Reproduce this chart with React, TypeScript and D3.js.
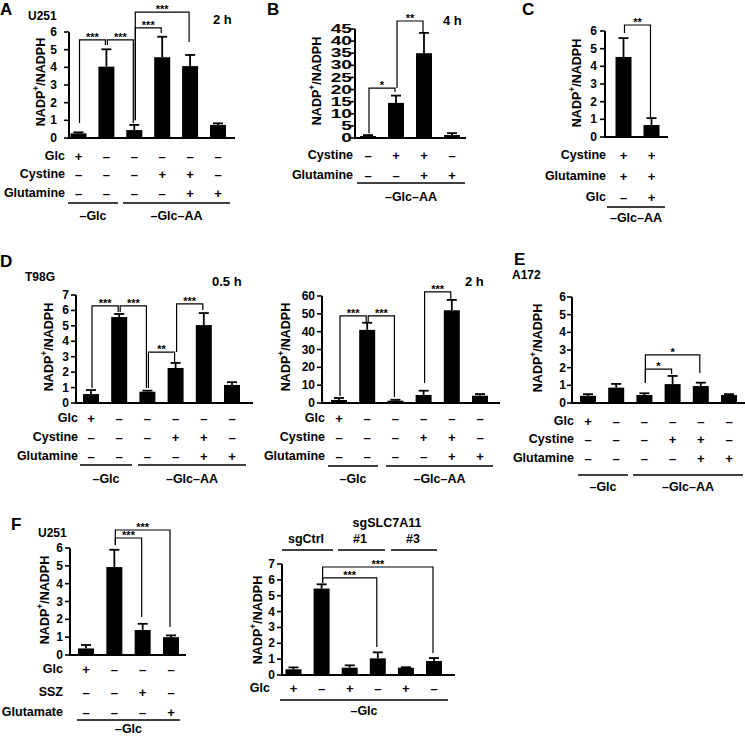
import React from 'react';
import * as d3 from 'd3';

const FONT = '"Liberation Sans", Arial, Helvetica, sans-serif';

// ---------- Data ----------
const PLUS = '+';
const MINUS = '–';

// Panel A (U251, 2 h)
const A_VALUES = [0.26, 4.04, 0.45, 4.57, 4.07, 0.74];
const A_ERRORS = [0.06, 0.98, 0.29, 1.16, 0.63, 0.09];
// Panel B (4 h)
const B_VALUES = [0.8, 14.5, 35.0, 1.2];
const B_ERRORS = [0.4, 3.0, 8.4, 0.8];
// Panel C
const C_VALUES = [4.53, 0.68];
const C_ERRORS = [1.07, 0.39];
// Panel D (T98G)
const D1_VALUES = [0.58, 5.57, 0.73, 2.27, 5.05, 1.17];
const D1_ERRORS = [0.26, 0.2, 0.07, 0.33, 0.78, 0.18];
const D2_VALUES = [1.7, 41, 1.3, 4.5, 52, 4.1];
const D2_ERRORS = [1.1, 4, 0.5, 2.4, 5.8, 0.9];
// Panel E (A172)
const E_VALUES = [0.41, 0.87, 0.45, 1.07, 0.96, 0.45];
const E_ERRORS = [0.09, 0.21, 0.1, 0.46, 0.19, 0.05];
// Panel F
const F1_VALUES = [0.37, 4.93, 1.4, 1.0];
const F1_ERRORS = [0.19, 0.97, 0.35, 0.1];
const F2_VALUES = [0.36, 5.45, 0.46, 1.05, 0.46, 0.88];
const F2_ERRORS = [0.12, 0.27, 0.15, 0.38, 0.03, 0.19];

// Condition rows
const SIX_GLC = [PLUS, MINUS, MINUS, MINUS, MINUS, MINUS];
const SIX_CYS = [MINUS, MINUS, MINUS, PLUS, PLUS, MINUS];
const SIX_GLN = [MINUS, MINUS, MINUS, MINUS, PLUS, PLUS];
const B_CYS = [MINUS, PLUS, PLUS, MINUS];
const B_GLN = [MINUS, MINUS, PLUS, PLUS];
const C_CYS = [PLUS, PLUS];
const C_GLN = [PLUS, PLUS];
const C_GLC = [MINUS, PLUS];
const F1_GLC = [PLUS, MINUS, MINUS, MINUS];
const F1_SSZ = [MINUS, MINUS, PLUS, MINUS];
const F1_GLU = [MINUS, MINUS, MINUS, PLUS];
const F2_GLC = [PLUS, MINUS, PLUS, MINUS, PLUS, MINUS];

// Significance brackets: [from, to, top, leftEnd, rightEnd, label]
type Bracket = [number, number, number, number, number, string];
const A_BRACKETS: Bracket[] = [
  [0, 1, 5.55, 0.85, 5.26, '***'],
  [1, 2, 5.55, 5.26, 0.85, '***'],
  [2, 3, 6.23, 1.0, 5.94, '***'],
  [2, 4, 7.13, 1.0, 5.43, '***'],
];
const B_BRACKETS: Bracket[] = [
  [0, 1, 20.6, 2.0, 19.0, '*'],
  [1, 2, 48.3, 20.6, 43.8, '**'],
];
const C_BRACKETS: Bracket[] = [[0, 1, 6.34, 5.89, 1.13, '**']];
const D1_BRACKETS: Bracket[] = [
  [0, 1, 6.29, 0.97, 5.9, '***'],
  [1, 2, 6.29, 5.9, 0.97, '***'],
  [2, 3, 3.3, 0.97, 2.6, '**'],
  [3, 4, 6.42, 3.3, 6.03, '***'],
];
const D2_BRACKETS: Bracket[] = [
  [0, 1, 48.8, 3.9, 45.4, '***'],
  [1, 2, 48.8, 45.4, 3.4, '***'],
  [3, 4, 62.3, 11.2, 58.3, '***'],
];
const E_BRACKETS: Bracket[] = [
  [2, 3, 1.92, 1.13, 1.64, '*'],
  [2, 4, 2.72, 1.13, 1.7, '*'],
];
const F1_BRACKETS: Bracket[] = [
  [1, 2, 6.56, 6.17, 2.13, '***'],
  [1, 3, 7.01, 6.17, 1.57, '***'],
];
const F2_BRACKETS: Bracket[] = [
  [1, 3, 6.12, 5.8, 1.77, '***'],
  [1, 5, 6.81, 5.8, 1.39, '***'],
];

// ---------- Panel component ----------
interface Row { label: string; signs: string[]; y: number }
interface Group { label: string; x1: number; x2: number }
interface PanelProps {
  values: number[];
  errors: number[];
  yMax: number;
  tickStep: number;
  axisX: number;
  axisRight: number;
  y0: number;
  yTop: number;
  firstX: number;
  lastX: number;
  tickGap: number;
  tickScaleX?: number;
  ylabelX: number;
  ylabelY: number;
  rows: Row[];
  rowLabelX: number;
  groups: Group[];
  groupLineY: number;
  groupLabelY: number;
  brackets: Bracket[];
}

const YLabel: React.FC<{ x: number; y: number }> = ({ x, y }) => (
  <text
    transform={`translate(${x},${y}) rotate(-90)`}
    textAnchor="middle"
    dominantBaseline="central"
    fontSize={12.5}
    fontWeight="bold"
  >
    NADP<tspan fontSize={8.5} dy={-5}>+</tspan>
    <tspan dy={5}>/NADPH</tspan>
  </text>
);

const Panel: React.FC<PanelProps> = (p) => {
  const x = d3
    .scalePoint<number>()
    .domain(d3.range(p.values.length))
    .range([p.firstX, p.lastX]);
  const y = d3.scaleLinear().domain([0, p.yMax]).range([p.y0, p.yTop]);
  const ticks = d3.range(0, p.yMax + 1e-9, p.tickStep);
  const bw = 16;
  const sx = p.tickScaleX ?? 1;
  return (
    <g>
      {/* bars */}
      {p.values.map((v, i) => (
        <rect key={'b' + i} x={(x(i) as number) - bw / 2} y={y(v)} width={bw} height={p.y0 - y(v)} fill="#000" />
      ))}
      {/* error bars */}
      {p.values.map((v, i) => {
        const cx = x(i) as number;
        const top = y(v + p.errors[i]);
        return (
          <g key={'e' + i} stroke="#000" strokeWidth={1.8}>
            <line x1={cx} x2={cx} y1={y(v)} y2={top} />
            <line x1={cx - 5} x2={cx + 5} y1={top} y2={top} />
          </g>
        );
      })}
      {/* axes */}
      <line x1={p.axisX} x2={p.axisX} y1={p.y0 + 1} y2={p.yTop} stroke="#000" strokeWidth={2} />
      <line x1={p.axisX - 1} x2={p.axisRight} y1={p.y0} y2={p.y0} stroke="#000" strokeWidth={2} />
      {ticks.map((t) => (
        <g key={'t' + t}>
          <line x1={p.axisX - 5} x2={p.axisX} y1={y(t)} y2={y(t)} stroke="#000" strokeWidth={1.6} />
          <text
            transform={`translate(${p.axisX - p.tickGap},${y(t)}) scale(${sx},1)`}
            textAnchor="end"
            dominantBaseline="central"
            fontSize={12}
            fontWeight="bold"
          >
            {t}
          </text>
        </g>
      ))}
      <YLabel x={p.ylabelX} y={p.ylabelY} />
      {/* brackets */}
      {p.brackets.map(([a, b, top, le, re, lab], k) => {
        const xa = (x(a) as number) + 1;
        const xb = (x(b) as number) - 1;
        const yt = y(top);
        return (
          <g key={'k' + k}>
            <path
              d={`M${xa},${y(le)}V${yt}H${xb}V${y(re)}`}
              fill="none"
              stroke="#000"
              strokeWidth={1.2}
            />
            <text x={(xa + xb) / 2} y={yt + 1} textAnchor="middle" fontSize={11} fontWeight="bold">
              {lab}
            </text>
          </g>
        );
      })}
      {/* condition rows */}
      {p.rows.map((r) => (
        <g key={'r' + r.label}>
          <text x={p.rowLabelX} y={r.y} textAnchor="end" dominantBaseline="central" fontSize={12.5} fontWeight="bold">
            {r.label}
          </text>
          {r.signs.map((s, i) => (
            <text
              key={i}
              x={x(i) as number}
              y={r.y}
              textAnchor="middle"
              dominantBaseline="central"
              fontSize={13}
              fontWeight="bold"
            >
              {s}
            </text>
          ))}
        </g>
      ))}
      {/* groups */}
      {p.groups.map((g) => (
        <g key={'g' + g.label}>
          <line x1={g.x1} x2={g.x2} y1={p.groupLineY} y2={p.groupLineY} stroke="#000" strokeWidth={1.3} />
          <text
            x={(g.x1 + g.x2) / 2}
            y={p.groupLabelY}
            textAnchor="middle"
            dominantBaseline="central"
            fontSize={12.5}
            fontWeight="bold"
          >
            {g.label}
          </text>
        </g>
      ))}
    </g>
  );
};

const T: React.FC<{ x: number; y: number; size?: number; anchor?: string; children: React.ReactNode }> = ({
  x,
  y,
  size = 12,
  anchor = 'start',
  children,
}) => (
  <text x={x} y={y} fontSize={size} fontWeight="bold" textAnchor={anchor as any}>
    {children}
  </text>
);

export default function App() {
  const sixRows = (ys: number[]): Row[] => [
    { label: 'Glc', signs: SIX_GLC, y: ys[0] },
    { label: 'Cystine', signs: SIX_CYS, y: ys[1] },
    { label: 'Glutamine', signs: SIX_GLN, y: ys[2] },
  ];
  return (
    <svg
      width={745}
      height={737}
      style={{ position: 'absolute', left: 0, top: 0, background: '#fff' }}
      fontFamily={FONT}
    >
      <rect width={745} height={737} fill="#fff" />
      {/* Panel A */}
      <T x={0} y={15} size={17}>A</T>
      <T x={28} y={19.5}>U251</T>
      <T x={213} y={24} size={13}>2 h</T>
      <Panel
        values={A_VALUES}
        errors={A_ERRORS}
        yMax={6}
        tickStep={1}
        axisX={69}
        axisRight={235}
        y0={138}
        yTop={32}
        firstX={78.5}
        lastX={218}
        tickGap={12}
        ylabelX={41}
        ylabelY={82}
        rows={sixRows([156, 174, 193])}
        rowLabelX={65}
        groups={[
          { label: '–Glc', x1: 68, x2: 118 },
          { label: '–Glc–AA', x1: 123, x2: 230 },
        ]}
        groupLineY={203}
        groupLabelY={216}
        brackets={A_BRACKETS}
      />
      {/* Panel B */}
      <T x={267} y={15} size={17}>B</T>
      <T x={443} y={25} size={13}>4 h</T>
      <Panel
        values={B_VALUES}
        errors={B_ERRORS}
        yMax={45}
        tickStep={5}
        axisX={355}
        axisRight={466}
        y0={138}
        yTop={29}
        firstX={368}
        lastX={452}
        tickGap={3}
        tickScaleX={1.6}
        ylabelX={317}
        ylabelY={81}
        rows={[
          { label: 'Cystine', signs: B_CYS, y: 155 },
          { label: 'Glutamine', signs: B_GLN, y: 175 },
        ]}
        rowLabelX={353}
        groups={[{ label: '–Glc–AA', x1: 357, x2: 465 }]}
        groupLineY={183}
        groupLabelY={197}
        brackets={B_BRACKETS}
      />
      {/* Panel C */}
      <T x={522} y={15} size={17}>C</T>
      <Panel
        values={C_VALUES}
        errors={C_ERRORS}
        yMax={6}
        tickStep={1}
        axisX={605}
        axisRight={668}
        y0={137}
        yTop={31}
        firstX={623.5}
        lastX={651.5}
        tickGap={8}
        ylabelX={577}
        ylabelY={83}
        rows={[
          { label: 'Cystine', signs: C_CYS, y: 155 },
          { label: 'Glutamine', signs: C_GLN, y: 176 },
          { label: 'Glc', signs: C_GLC, y: 197 },
        ]}
        rowLabelX={606}
        groups={[{ label: '–Glc–AA', x1: 607, x2: 665 }]}
        groupLineY={207}
        groupLabelY={218}
        brackets={C_BRACKETS}
      />
      {/* Panel D */}
      <T x={0} y={267} size={17}>D</T>
      <T x={25} y={281}>T98G</T>
      <T x={212} y={286} size={13}>0.5 h</T>
      <Panel
        values={D1_VALUES}
        errors={D1_ERRORS}
        yMax={7}
        tickStep={1}
        axisX={76}
        axisRight={253}
        y0={403}
        yTop={295}
        firstX={91}
        lastX={232}
        tickGap={7}
        ylabelX={49}
        ylabelY={347}
        rows={sixRows([418, 437, 456])}
        rowLabelX={78}
        groups={[
          { label: '–Glc', x1: 80, x2: 132 },
          { label: '–Glc–AA', x1: 138, x2: 246 },
        ]}
        groupLineY={465}
        groupLabelY={479}
        brackets={D1_BRACKETS}
      />
      <T x={465} y={286} size={13}>2 h</T>
      <Panel
        values={D2_VALUES}
        errors={D2_ERRORS}
        yMax={60}
        tickStep={10}
        axisX={322}
        axisRight={500}
        y0={403}
        yTop={296}
        firstX={339}
        lastX={480}
        tickGap={7}
        ylabelX={286}
        ylabelY={347}
        rows={sixRows([418, 437, 456])}
        rowLabelX={325}
        groups={[
          { label: '–Glc', x1: 328, x2: 378 },
          { label: '–Glc–AA', x1: 386, x2: 493 },
        ]}
        groupLineY={466}
        groupLabelY={479}
        brackets={D2_BRACKETS}
      />
      {/* Panel E */}
      <T x={514} y={265} size={17}>E</T>
      <T x={512} y={279}>A172</T>
      <Panel
        values={E_VALUES}
        errors={E_ERRORS}
        yMax={6}
        tickStep={1}
        axisX={572}
        axisRight={745}
        y0={403}
        yTop={297}
        firstX={588}
        lastX={729}
        tickGap={6}
        ylabelX={538}
        ylabelY={348}
        rows={sixRows([421, 439, 458])}
        rowLabelX={574}
        groups={[
          { label: '–Glc', x1: 578, x2: 628 },
          { label: '–Glc–AA', x1: 633, x2: 743 },
        ]}
        groupLineY={475}
        groupLabelY={487}
        brackets={E_BRACKETS}
      />
      {/* Panel F */}
      <T x={11} y={530} size={17}>F</T>
      <T x={38} y={537}>U251</T>
      <Panel
        values={F1_VALUES}
        errors={F1_ERRORS}
        yMax={6}
        tickStep={1}
        axisX={70}
        axisRight={186}
        y0={655}
        yTop={548}
        firstX={86}
        lastX={171}
        tickGap={7}
        ylabelX={45}
        ylabelY={600}
        rows={[
          { label: 'Glc', signs: F1_GLC, y: 669 },
          { label: 'SSZ', signs: F1_SSZ, y: 692 },
          { label: 'Glutamate', signs: F1_GLU, y: 712 },
        ]}
        rowLabelX={63}
        groups={[{ label: '–Glc', x1: 77, x2: 180 }]}
        groupLineY={720}
        groupLabelY={729}
        brackets={F1_BRACKETS}
      />
      <Panel
        values={F2_VALUES}
        errors={F2_ERRORS}
        yMax={7}
        tickStep={1}
        axisX={282}
        axisRight={455}
        y0={675}
        yTop={564}
        firstX={293.5}
        lastX={434}
        tickGap={7}
        ylabelX={258}
        ylabelY={620}
        rows={[{ label: 'Glc', signs: F2_GLC, y: 688 }]}
        rowLabelX={270}
        groups={[{ label: '–Glc', x1: 280, x2: 448 }]}
        groupLineY={700}
        groupLabelY={711}
        brackets={F2_BRACKETS}
      />
      {/* F right header */}
      <T x={387} y={527} size={12.5} anchor="middle">sgSLC7A11</T>
      <T x={306} y={543} size={12.5} anchor="middle">sgCtrl</T>
      <T x={360} y={543} size={12.5} anchor="middle">#1</T>
      <T x={413} y={543} size={12.5} anchor="middle">#3</T>
      <g stroke="#000" strokeWidth={1.3}>
        <line x1={282} x2={333} y1={550} y2={550} />
        <line x1={338} x2={385} y1={550} y2={550} />
        <line x1={391} x2={437} y1={550} y2={550} />
      </g>
    </svg>
  );
}
